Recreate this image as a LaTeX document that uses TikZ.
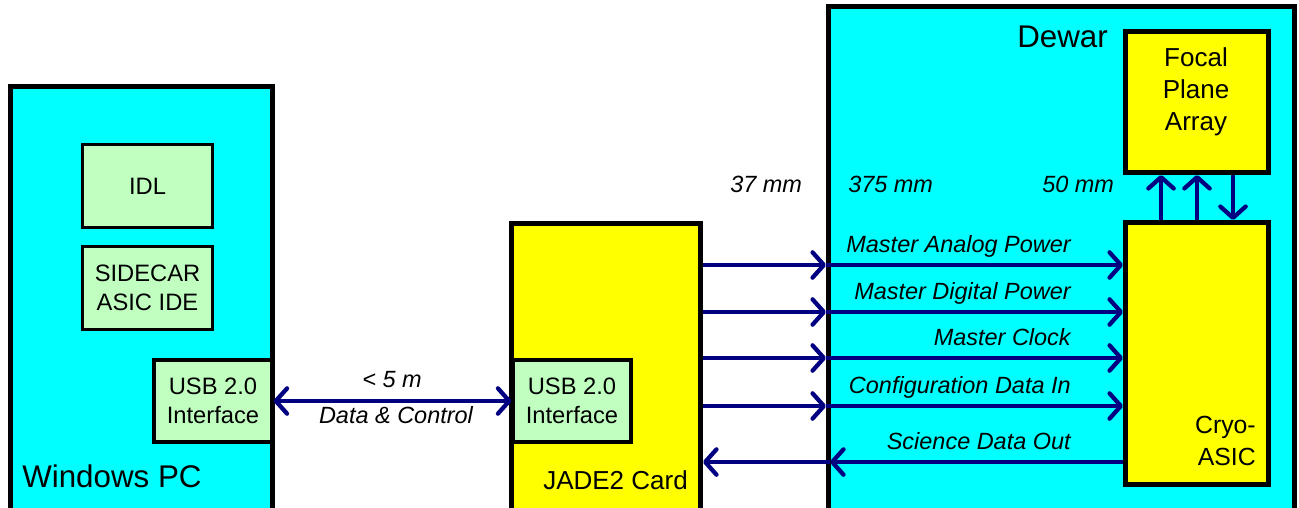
\documentclass[tikz,border=0pt]{standalone}
\usepackage{fontspec}
\setmainfont{Liberation Sans}
\usetikzlibrary{arrows.meta}
\definecolor{cyanbg}{RGB}{0,255,255}
\definecolor{ylw}{RGB}{255,255,0}
\definecolor{lgreen}{RGB}{192,255,192}
\definecolor{navyline}{RGB}{0,0,128}
\tikzset{
  bigbox/.style={draw=black, line width=3.75pt, rectangle, inner sep=0pt},
  cyanbox/.style={bigbox, fill=cyanbg},
  ylwbox/.style={bigbox, fill=ylw},
  greenbox/.style={draw=black, line width=2.4pt, rectangle, inner sep=0pt, fill=lgreen,
    align=center, font=\fontsize{17.8}{21.5}\selectfont},
  barb/.tip={Straight Barb[length=8.5pt,width=19pt,line cap=round,line join=round]},
  sig/.style={draw=navyline, line width=3.2pt, -barb},
  biglbl/.style={inner sep=0pt, font=\fontsize{23.5}{28}\selectfont},
  midlbl/.style={inner sep=0pt, font=\fontsize{19.5}{24}\selectfont},
  chlbl/.style={inner sep=0pt, font=\fontsize{17.6}{21}\selectfont\itshape},
}
\begin{document}
\begin{tikzpicture}[x=0.75pt, y=-0.75pt]
\clip (0,0) rectangle (1299,507);
\fill[white] (0,0) rectangle (1299,507);

% Boxes
\node[cyanbox, minimum width=196.5pt, minimum height=333pt] (pc) at (141.5,308) {};
\node[greenbox, minimum width=97.5pt, minimum height=62.25pt] (idl) at (147.5,186) {IDL};
\node[greenbox, minimum width=97.5pt, minimum height=62.25pt] (ide) at (147.5,288) {SIDECAR\\ASIC IDE};
\node[greenbox, minimum width=88.5pt, minimum height=61.5pt] (usbL) at (213,401) {USB 2.0\\Interface};

\node[ylwbox, minimum width=141.75pt, minimum height=237.4pt] (jade) at (606,381.75) {};
\node[greenbox, minimum width=88.5pt, minimum height=61.5pt] (usbR) at (572,401) {USB 2.0\\Interface};

\node[cyanbox, minimum width=349.1pt, minimum height=400pt] (dewar) at (1061.25,273.25) {};
\node[ylwbox, minimum width=107.25pt, minimum height=105.75pt] (fpa) at (1197,102) {};
\node[ylwbox, minimum width=107.25pt, minimum height=196.5pt] (cryo) at (1197,353.5) {};

% Box titles
\node[biglbl, anchor=base west] (pcL) at (22,487) {Windows PC};
\node[midlbl, anchor=base west] (jadeL) at (543,489) {JADE2 Card};
\node[biglbl, anchor=base west] (dewarL) at (1017,47) {Dewar};
\node[midlbl, anchor=base] (fpa1) at (1196,66) {Focal};
\node[midlbl, anchor=base] (fpa2) at (1196,98) {Plane};
\node[midlbl, anchor=base] (fpa3) at (1196,130) {Array};
\node[midlbl, anchor=base east, font=\fontsize{18.6}{22}\selectfont] (cryo1) at (1256,433) {Cryo-};
\node[midlbl, anchor=base east, font=\fontsize{18.6}{22}\selectfont] (cryo2) at (1256,465) {ASIC};

% USB link
\draw[sig, barb-barb] (usbL.east) -- (usbR.west);
\node[chlbl, anchor=base] (lenL) at (392,387) {< 5 m};
\node[chlbl, anchor=base] (dcL) at (396,423) {Data \& Control};

% Distance labels
\node[chlbl, anchor=base west] (d1) at (730,192) {37 mm};
\node[chlbl, anchor=base west] (d2) at (848,192) {375 mm};
\node[chlbl, anchor=base west] (d3) at (1042,192) {50 mm};

% Signal rows
\coordinate (r1) at (0,265);
\coordinate (r2) at (0,312);
\coordinate (r3) at (0,358);
\coordinate (r4) at (0,406);
\coordinate (r5) at (0,462);
\foreach \r in {r1,r2,r3,r4}{
  \draw[sig] (jade.east |- \r) -- (dewar.west |- \r);
  \draw[sig] (dewar.west |- \r) -- (cryo.west |- \r);
}
\draw[sig] (cryo.west |- r5) -- ([xshift=3pt]dewar.west |- r5);
\draw[sig] ([xshift=3pt]dewar.west |- r5) -- (jade.east |- r5);

\node[chlbl, anchor=base east] (s1) at (1071,252) {Master Analog Power};
\node[chlbl, anchor=base east] (s2) at (1071,299) {Master Digital Power};
\node[chlbl, anchor=base east] (s3) at (1071,345) {Master Clock};
\node[chlbl, anchor=base east] (s4) at (1071,393) {Configuration Data In};
\node[chlbl, anchor=base east] (s5) at (1071,449) {Science Data Out};

% Cryo-ASIC <-> FPA
\coordinate (v1) at (1161,0);
\coordinate (v2) at (1197,0);
\coordinate (v3) at (1233,0);
\draw[sig] (cryo.north -| v1) -- (fpa.south -| v1);
\draw[sig] (cryo.north -| v2) -- (fpa.south -| v2);
\draw[sig] (fpa.south -| v3) -- (cryo.north -| v3);
\end{tikzpicture}
\end{document}
